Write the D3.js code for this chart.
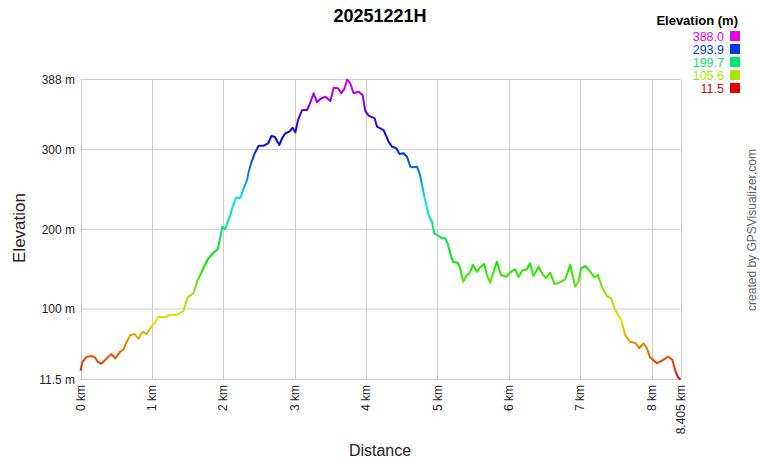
<!DOCTYPE html>
<html>
<head>
<meta charset="utf-8">
<script src="https://cdn.jsdelivr.net/npm/d3@7"></script>
<style>
  body { margin: 0; background: #fff; }
  svg text { font-family: "Liberation Sans", Arial, sans-serif; }
</style>
</head>
<body>
<svg id="chart" width="760" height="460"></svg>
<script>
// distance (km) and elevation (m)
const distKm = [0, 0.028, 0.088, 0.158, 0.206, 0.242, 0.290, 0.346, 0.430, 0.486,
  0.556, 0.602, 0.648, 0.696, 0.756, 0.812, 0.868, 0.928, 0.990, 1.036,
  1.092, 1.186, 1.256, 1.348, 1.442, 1.502, 1.582, 1.642, 1.690, 1.736,
  1.792, 1.862, 1.922, 1.956, 1.988, 2.026, 2.062, 2.096, 2.132, 2.180,
  2.240, 2.286, 2.334, 2.356, 2.394, 2.440, 2.496, 2.566, 2.628, 2.674,
  2.720, 2.786, 2.824, 2.870, 2.926, 2.972, 3.010, 3.048, 3.104, 3.174,
  3.206, 3.266, 3.314, 3.360, 3.430, 3.500, 3.546, 3.608, 3.654, 3.700,
  3.734, 3.780, 3.826, 3.896, 3.952, 3.990, 4.036, 4.120, 4.154, 4.246,
  4.316, 4.364, 4.424, 4.470, 4.526, 4.574, 4.620, 4.666, 4.714, 4.750,
  4.784, 4.816, 4.844, 4.876, 4.924, 4.956, 5.016, 5.064, 5.110, 5.142,
  5.180, 5.218, 5.282, 5.320, 5.358, 5.414, 5.450, 5.498, 5.554, 5.600,
  5.656, 5.694, 5.740, 5.786, 5.834, 5.890, 5.964, 6.030, 6.090, 6.136,
  6.184, 6.254, 6.296, 6.346, 6.416, 6.472, 6.520, 6.580, 6.640, 6.706,
  6.790, 6.860, 6.930, 6.976, 7.014, 7.070, 7.140, 7.200, 7.248, 7.312,
  7.374, 7.434, 7.490, 7.574, 7.630, 7.700, 7.780, 7.826, 7.886, 7.934,
  7.980, 8.074, 8.144, 8.236, 8.292, 8.330, 8.368, 8.405];
const elevM = [22.5, 33.8, 40.1, 41.0, 38.9, 33.8, 31.3, 36.0, 43.5, 38.1,
  46.4, 49.4, 58.9, 67.0, 68.6, 62.7, 71.5, 68.6, 77.8, 82.0,
  90.3, 89.6, 92.4, 92.4, 97.5, 114.7, 119.7, 136.4, 144.8, 153.9,
  163.6, 170.6, 174.9, 188.7, 203.3, 200.0, 209.5, 216.7, 228.4, 239.7,
  239.7, 251.5, 261.9, 272.3, 284.1, 295.4, 304.9, 304.9, 307.9, 317.1,
  316.2, 305.8, 314.2, 320.5, 322.5, 327.5, 321.7, 337.2, 349.7, 349.7,
  356.0, 370.7, 359.4, 363.5, 366.4, 361.0, 377.7, 376.9, 370.7, 376.9,
  388.0, 383.1, 370.7, 372.7, 368.5, 348.4, 342.6, 339.3, 328.8, 324.6,
  309.9, 303.7, 301.7, 294.5, 295.4, 291.1, 278.6, 277.8, 278.6, 270.3,
  255.6, 241.1, 230.5, 218.0, 209.5, 195.0, 191.6, 188.7, 188.7, 182.4,
  169.9, 159.3, 158.1, 151.1, 134.2, 142.6, 144.8, 155.2, 146.8, 152.3,
  156.5, 142.6, 133.0, 146.8, 159.3, 142.6, 140.5, 146.8, 149.8, 139.8,
  148.0, 149.8, 157.3, 141.4, 153.1, 143.9, 138.5, 145.5, 131.4, 133.0,
  137.3, 155.2, 128.0, 134.2, 151.1, 153.9, 146.8, 139.8, 142.6, 126.0,
  116.3, 113.4, 98.7, 86.2, 67.3, 58.9, 56.9, 50.7, 56.9, 50.7,
  39.4, 31.8, 35.1, 40.1, 36.0, 23.4, 14.3, 11.5];

const yTicks = [11.5, 100, 200, 300, 388];
const yTickLabels = ["11.5 m", "100 m", "200 m", "300 m", "388 m"];
const xTicks = [0, 1, 2, 3, 4, 5, 6, 7, 8, 8.405];
const xTickLabels = ["0 km", "1 km", "2 km", "3 km", "4 km", "5 km", "6 km", "7 km", "8 km", "8.405 km"];
const legendValues = [388.0, 293.9, 199.7, 105.6, 11.5];

const minE = 11.5, maxE = 388.0;

const svg = d3.select("#chart");

const x = d3.scaleLinear().domain([0, 8.405]).range([80.5, 680.5]);
const y = d3.scaleLinear().domain([minE, maxE]).range([379.5, 79.5]);

// elevation colour: hue red (0) -> magenta (300)
const hue = d3.scaleLinear().domain([minE, maxE]).range([0, 300]);
function elevColor(e) { return d3.hsl(hue(e), 1, 0.45).formatHex(); }

// grid
const grid = svg.append("g").attr("stroke", "#cccccc").attr("stroke-width", 1);
grid.selectAll("line.h").data(yTicks).enter().append("line")
  .attr("x1", x(0)).attr("x2", x(8.405))
  .attr("y1", d => y(d)).attr("y2", d => y(d));
grid.selectAll("line.v").data(xTicks).enter().append("line")
  .attr("x1", d => Math.round(x(d)) + 0.5).attr("x2", d => Math.round(x(d)) + 0.5)
  .attr("y1", y(maxE)).attr("y2", y(minE));

// y tick labels
svg.append("g").selectAll("text").data(yTicks).enter().append("text")
  .attr("x", 75).attr("y", d => y(d)).attr("dy", "0.35em")
  .attr("text-anchor", "end").attr("font-size", 12).attr("fill", "#222")
  .text((d, i) => yTickLabels[i]);

// x tick labels (rotated)
svg.append("g").selectAll("text").data(xTicks).enter().append("text")
  .attr("transform", d => "translate(" + x(d) + ",385) rotate(-90)")
  .attr("dy", "0.35em")
  .attr("text-anchor", "end").attr("font-size", 12).attr("fill", "#222")
  .text((d, i) => xTickLabels[i]);

// gradient along elevation
const defs = svg.append("defs");
const grad = defs.append("linearGradient").attr("id", "elevGrad")
  .attr("gradientUnits", "userSpaceOnUse")
  .attr("x1", 0).attr("x2", 0).attr("y1", y(minE)).attr("y2", y(maxE));
d3.range(0, 1.0001, 0.05).forEach(t => {
  grad.append("stop").attr("offset", t).attr("stop-color", elevColor(minE + t * (maxE - minE)));
});

const pts = distKm.map((d, i) => [d, elevM[i]]);
const line = d3.line().x(d => x(d[0])).y(d => y(d[1]));
svg.append("path").datum(pts)
  .attr("d", line)
  .attr("fill", "none")
  .attr("stroke", "url(#elevGrad)")
  .attr("stroke-width", 2)
  .attr("stroke-linejoin", "round");

// titles
svg.append("text").attr("x", 380).attr("y", 22).attr("text-anchor", "middle")
  .attr("font-size", 18).attr("font-weight", "bold").attr("fill", "#000").text("20251221H");
svg.append("text").attr("transform", "translate(19,228) rotate(-90)")
  .attr("text-anchor", "middle").attr("dy", "0.35em").attr("font-size", 17).attr("fill", "#222").text("Elevation");
svg.append("text").attr("x", 380).attr("y", 456).attr("text-anchor", "middle")
  .attr("font-size", 16).attr("fill", "#222").text("Distance");
svg.append("text").attr("transform", "translate(752,230) rotate(-90)")
  .attr("text-anchor", "middle").attr("dy", "0.35em").attr("font-size", 12).attr("fill", "#666")
  .text("created by GPSVisualizer.com");

// legend
svg.append("text").attr("x", 738).attr("y", 25).attr("text-anchor", "end")
  .attr("font-size", 13).attr("font-weight", "bold").attr("fill", "#000").text("Elevation (m)");
const leg = svg.append("g").selectAll("g").data(legendValues).enter().append("g")
  .attr("transform", (d, i) => "translate(0," + (31 + i * 13) + ")");
leg.append("rect").attr("x", 730).attr("y", 0).attr("width", 10).attr("height", 10)
  .attr("fill", d => elevColor(d));
leg.append("text").attr("x", 724).attr("y", 10).attr("text-anchor", "end")
  .attr("font-size", 12.5).attr("fill", d => elevColor(d)).text(d => d.toFixed(1));
</script>
</body>
</html>
